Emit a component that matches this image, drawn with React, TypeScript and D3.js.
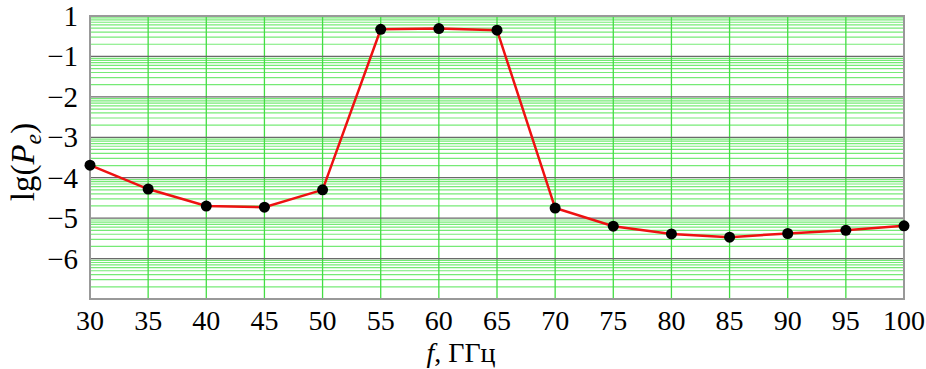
import * as d3 from "d3";

const WIDTH = 926;
const HEIGHT = 369;
const MARGIN = { top: 16, right: 22, bottom: 70, left: 90 };

// frequency, GHz
const freqs = [30, 35, 40, 45, 50, 55, 60, 65, 70, 75, 80, 85, 90, 95, 100];
// lg(Pe)
const lgPe = [-3.69, -4.28, -4.7, -4.73, -4.3, -0.33, -0.31, -0.35, -4.75, -5.2, -5.39, -5.47, -5.38, -5.3, -5.19];

const xTicks = [30, 35, 40, 45, 50, 55, 60, 65, 70, 75, 80, 85, 90, 95, 100];
const yTicks = [0, -1, -2, -3, -4, -5, -6];
const yTickLabels = ["1", "\u22121", "\u22122", "\u22123", "\u22124", "\u22125", "\u22126"];
const decades = [0, -1, -2, -3, -4, -5, -6];
const minorSteps = [2, 3, 4, 5, 6, 7, 8, 9];

export default function App() {
  const boundsWidth = WIDTH - MARGIN.left - MARGIN.right;
  const boundsHeight = HEIGHT - MARGIN.top - MARGIN.bottom;

  const xScale = d3.scaleLinear().domain([30, 100]).range([0, boundsWidth]);
  const yScale = d3.scaleLinear().domain([-7, 0]).range([boundsHeight, 0]);

  const data = freqs.map((f, i) => ({ x: f, y: lgPe[i] }));
  const linePath = d3
    .line<{ x: number; y: number }>()
    .x((d) => xScale(d.x))
    .y((d) => yScale(d.y))(data);

  // log-style minor lines inside every decade
  const minorLines: number[] = [];
  decades.forEach((top) => {
    minorSteps.forEach((k) => minorLines.push(top - 1 + Math.log10(k)));
  });

  const font = "'Liberation Serif', 'Times New Roman', serif";

  return (
    <svg
      width={WIDTH}
      height={HEIGHT}
      style={{ position: "absolute", left: 0, top: 0, background: "#fff" }}
    >
      <g transform={`translate(${MARGIN.left},${MARGIN.top})`}>
        {minorLines.map((v, i) => (
          <line
            key={"m" + i}
            x1={0}
            x2={boundsWidth}
            y1={yScale(v)}
            y2={yScale(v)}
            stroke="#5ee65e"
            strokeOpacity={0.85}
            strokeWidth={1.2}
          />
        ))}
        {xTicks.map((t) => (
          <line
            key={"v" + t}
            x1={xScale(t)}
            x2={xScale(t)}
            y1={0}
            y2={boundsHeight}
            stroke="#44dd44"
            strokeWidth={1.3}
          />
        ))}
        {yTicks.map((t) => (
          <line
            key={"h" + t}
            x1={0}
            x2={boundsWidth}
            y1={yScale(t)}
            y2={yScale(t)}
            stroke="#6a6a6a"
            strokeWidth={1.3}
          />
        ))}
        <rect
          x={0}
          y={0}
          width={boundsWidth}
          height={boundsHeight}
          fill="none"
          stroke="#999"
          strokeWidth={2}
        />
        {linePath && (
          <path d={linePath} fill="none" stroke="#ee1111" strokeWidth={2.5} />
        )}
        {data.map((d) => (
          <circle key={"p" + d.x} cx={xScale(d.x)} cy={yScale(d.y)} r={5.5} fill="#000" />
        ))}
        {xTicks.map((t) => (
          <text
            key={"xt" + t}
            x={xScale(t)}
            y={boundsHeight + 31}
            textAnchor="middle"
            fontFamily={font}
            fontSize={28}
            fill="#000"
          >
            {t}
          </text>
        ))}
        {yTicks.map((t, i) => (
          <text
            key={"yt" + t}
            x={-12}
            y={yScale(t) + 10}
            textAnchor="end"
            fontFamily={font}
            fontSize={29}
            fill="#000"
          >
            {yTickLabels[i]}
          </text>
        ))}
      </g>
      <text
        x={461}
        y={HEIGHT - 7}
        textAnchor="middle"
        fontFamily={font}
        fontSize={28}
        fill="#000"
      >
        <tspan fontStyle="italic">f</tspan>, ГГц
      </text>
      <text
        transform={`translate(34,${MARGIN.top + 146}) rotate(-90)`}
        textAnchor="middle"
        fontFamily={font}
        fontSize={33}
        fill="#000"
      >
        lg(<tspan fontStyle="italic">P</tspan>
        <tspan fontStyle="italic" fontSize={24} dy={7}>e</tspan>
        <tspan dy={-7}>)</tspan>
      </text>
    </svg>
  );
}
